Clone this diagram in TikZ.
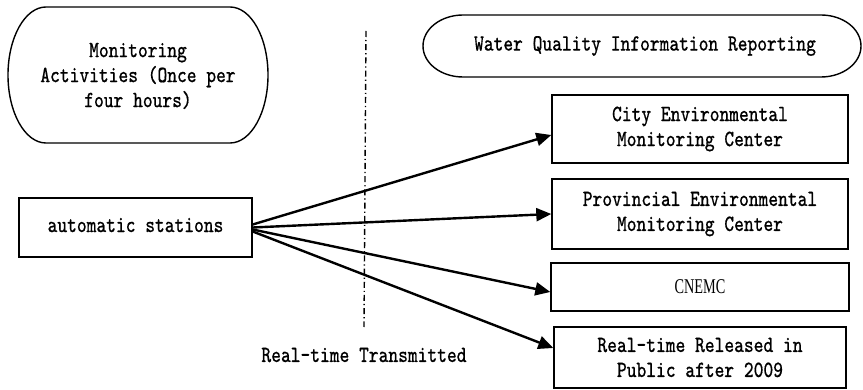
\documentclass[tikz,border=0pt]{standalone}
\usepackage{fontspec}
\usepackage{tikz}
\usetikzlibrary{positioning,calc,arrows.meta}

\newfontfamily\boxfont{Latin Modern Mono}[FakeBold=0.6]
\newfontfamily\capfont{Liberation Serif}
\newcommand{\tall}[1]{\scalebox{1}[1.25]{#1}}

\tikzset{
  mono/.style={font=\boxfont\fontsize{9.3}{12.5}\selectfont, align=center},
  box/.style={draw, line width=0.7pt, mono, inner sep=0pt},
  link/.style={-{Triangle[length=7.5pt,width=6.5pt]}, line width=1.2pt},
}

\begin{document}
\begin{tikzpicture}[x=0.5pt, y=0.5pt]
    \useasboundingbox (0, 0) rectangle (863, -390);

    % Monitoring activities
    \draw [line width=0.7pt] (46, -7) -- (230, -7)
        arc [start angle=90, end angle=-90, x radius=38, y radius=68]
        -- (46, -143)
        arc [start angle=-90, end angle=-270, x radius=38, y radius=68] -- cycle;
    \node [mono] (monitor) at (138, -76)
        {\tall{Monitoring}\\\tall{Activities (Once per}\\\tall{four hours)}};

    % Reporting
    \draw [line width=0.7pt] (463, -15) -- (821, -15)
        arc [start angle=90, end angle=-90, x radius=40, y radius=31]
        -- (463, -77)
        arc [start angle=-90, end angle=-270, x radius=40, y radius=31] -- cycle;
    \node [mono] (report) at (645, -46) {\tall{Water Quality Information Reporting}};

    % Stations
    \node [box, minimum width=116.5pt, minimum height=29.5pt] (stations) at (135.5, -227.5)
        {\raisebox{2.5pt}{\tall{automatic stations}}};

    % Receivers
    \node [box, minimum width=148pt, minimum height=34pt] (city) at (700, -129)
        {\tall{City Environmental}\\\tall{Monitoring Center}};
    \node [box, minimum width=148pt, minimum height=35pt] (prov) at (700, -214)
        {\tall{Provincial Environmental}\\\tall{Monitoring Center}};
    \node [box, minimum width=149pt, minimum height=24pt] (cnemc) at (700, -287)
        {\capfont\fontsize{10.5}{12}\selectfont\scalebox{0.68}[1]{CNEMC}};
    \node [box, minimum width=146pt, minimum height=30.5pt] (public) at (700, -357.5)
        {\tall{Real-time Released in}\\\tall{Public after 2009}};

    % Divider
    \coordinate (divtop) at (366, -31);
    \coordinate (divbot) at (364, -327);
    \draw [line width=0.7pt, dash pattern=on 3pt off 1.5pt on 0.6pt off 1.5pt] (divtop) -- (divbot);
    \node [mono] (transmit) at (364, -355) {\tall{Real-time Transmitted}};

    % Links
    \draw [link] ([yshift=1.5pt]stations.east) -- ([yshift=-3pt]city.west);
    \draw [link] (stations.east) -- (prov.west);
    \draw [link] ([yshift=-1pt]stations.east) -- ([yshift=-2.5pt]cnemc.west);
    \draw [link] ([yshift=-2pt]stations.east) -- ([yshift=4.75pt]public.west);
\end{tikzpicture}
\end{document}
